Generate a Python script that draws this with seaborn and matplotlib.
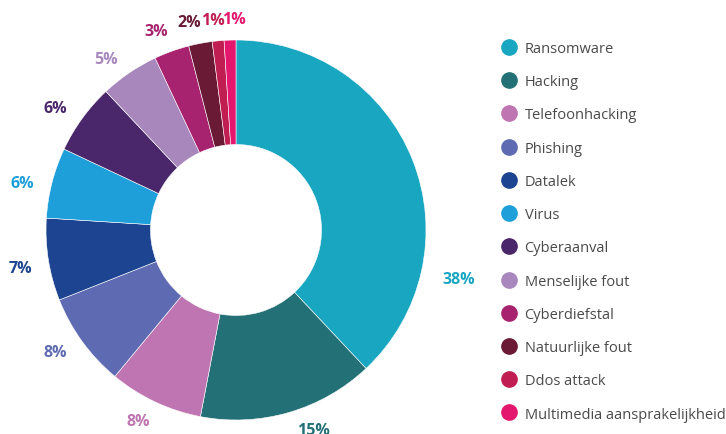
import matplotlib
matplotlib.use("Agg")
import matplotlib.pyplot as plt
from matplotlib.lines import Line2D
import numpy as np
import seaborn as sns

categories = ["Ransomware", "Hacking", "Telefoonhacking", "Phishing", "Datalek", "Virus",
              "Cyberaanval", "Menselijke fout", "Cyberdiefstal", "Natuurlijke fout",
              "Ddos attack", "Multimedia aansprakelijkheid"]
values = [38, 15, 8, 8, 7, 6, 6, 5, 3, 2, 1, 1]
colors = ["#18a6c1", "#237176", "#bf75b1", "#5e6bb2", "#1d4490", "#1e9fda",
          "#4a266a", "#a887bd", "#a8236f", "#6a1a35", "#c01e52", "#e4176e"]
# label placement tweaks (degrees clockwise added to the slice mid-angle, radius)
label_shift = [34, -5, 2, 2, -1, -2, -2, -3, -2, -2, -1, 1.3]
label_radius = [1.2, 1.13, 1.13, 1.15, 1.15, 1.15, 1.15, 1.13, 1.13, 1.12, 1.11, 1.11]

sns.set_theme(style="white")
plt.rcParams["font.family"] = ["Open Sans", "DejaVu Sans"]

W, H = 726, 435
fig = plt.figure(figsize=(W / 100, H / 100), dpi=100)
ax = fig.add_axes([0, 0, 1, 1])
cx, cy, R = 236, 231, 190

wedges, texts = ax.pie(
    values, colors=colors, startangle=90, counterclock=False, radius=1,
    wedgeprops=dict(width=0.55, edgecolor="white", linewidth=0.4))

total = sum(values)
cum = np.cumsum([0] + values[:-1])
for v, c0, col, sh, r in zip(values, cum, colors, label_shift, label_radius):
    ang = (c0 + v / 2) / total * 360 + sh  # clockwise from top
    th = np.deg2rad(90 - ang)
    ax.text(r * np.cos(th), r * np.sin(th), f"{v}%", color=col, fontsize=11.5,
            fontweight="bold", ha="center", va="center")

ax.set_xlim((0 - cx) / R, (W - cx) / R)
ax.set_ylim((cy - H) / R, (cy - 0) / R)
ax.set_aspect("equal")
ax.axis("off")

handles = [Line2D([0], [0], marker="o", linestyle="", markersize=11,
                  markerfacecolor=c, markeredgecolor=c) for c in colors]
leg = ax.legend(handles, categories, loc="upper left",
                bbox_to_anchor=(502 / W, 1 - 42 / H), bbox_transform=fig.transFigure,
                frameon=False, fontsize=10.5, labelspacing=1.25, handletextpad=0.55,
                handlelength=1.0, borderpad=0, borderaxespad=0)
for t in leg.get_texts():
    t.set_color("#4a4a4a")

fig.savefig("out.png", dpi=100)
